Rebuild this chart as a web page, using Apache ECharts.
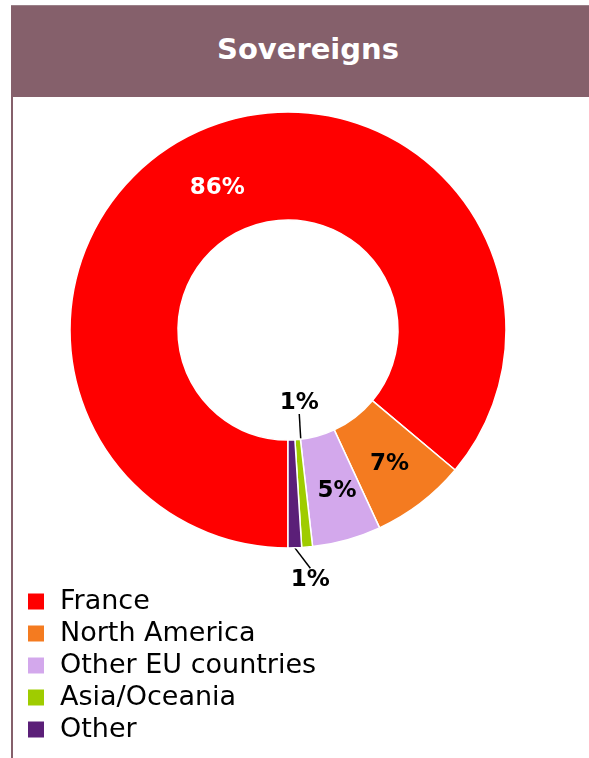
<!DOCTYPE html>
<html>
<head>
<meta charset="utf-8">
<script src="https://cdn.jsdelivr.net/npm/echarts@6/dist/echarts.min.js"></script>
<style>
  html, body { margin: 0; padding: 0; width: 589px; height: 758px; overflow: hidden; background: #fff; }
  #header { position: absolute; left: 11px; top: 5px; width: 594px; height: 92px; background: #85606b;
            border-top: 1px solid #9a8088; box-sizing: border-box;
            color: #fff; font-family: "DejaVu Sans", Verdana, sans-serif; font-weight: bold; font-size: 29px;
            text-align: center; line-height: 87px; }
  #border { position: absolute; left: 11px; top: 97px; width: 2px; height: 661px; background: #85606b; }
  #chart { position: absolute; left: 0; top: 0; width: 589px; height: 758px; }
</style>
</head>
<body>
<div id="chart"></div>
<div id="header">Sovereigns</div>
<div id="border"></div>
<script>
const titleText = 'Sovereigns';
const categories = ['France', 'North America', 'Other EU countries', 'Asia/Oceania', 'Other'];
const values = [86.1, 7.0, 5.1, 0.8, 1.0];
const colors = ['#ff0000', '#f47b20', '#d3a8ec', '#9fcc00', '#5b1f78'];
const labelColors = ['#ffffff', '#000000', '#000000', '#000000', '#000000'];
const insideLabel = [true, true, true, false, false];

document.getElementById('header').textContent = titleText;

const FONT = '"DejaVu Sans", Verdana, sans-serif';

const labelOffsets = [[0, 9], [0, 1], [4, 0], [0, 0], [0, 0]];

const data = categories.map((name, i) => ({
  name: name,
  value: values[i],
  itemStyle: { color: colors[i] },
  label: {
    position: insideLabel[i] ? 'inside' : 'outside',
    color: labelColors[i],
    offset: labelOffsets[i]
  },
  labelLine: { show: !insideLabel[i] }
}));

const chart = echarts.init(document.getElementById('chart'), null, { renderer: 'canvas' });
chart.setOption({
  animation: false,
  legend: {
    orient: 'vertical',
    left: 26,
    top: 588,
    padding: 0,
    itemWidth: 18,
    itemHeight: 18,
    itemGap: 5,
    icon: 'rect',
    data: categories,
    textStyle: { fontFamily: FONT, fontSize: 27, color: '#000', padding: [0, 0, 0, 10] }
  },
  series: [{
    type: 'pie',
    center: [288, 330],
    radius: [110, 218],
    startAngle: 270,
    clockwise: true,
    avoidLabelOverlap: false,
    itemStyle: { borderColor: '#ffffff', borderWidth: 1.5 },
    label: {
      show: true,
      fontFamily: FONT,
      fontWeight: 'bold',
      fontSize: 23,
      formatter: function (p) { return Math.round(p.percent) + '%'; }
    },
    labelLine: { lineStyle: { color: '#000', width: 1.5 }, length: 20, length2: 0, smooth: false },
    labelLayout: function (p) {
      if (p.dataIndex === 3) {
        return { x: p.rect.x + p.rect.width / 2 - 4.5, y: p.rect.y - 36, align: 'center', verticalAlign: 'middle' };
      }
      if (p.dataIndex === 4) {
        return { x: p.rect.x + p.rect.width / 2 + 15.5, y: p.rect.y + p.rect.height + 31, align: 'center', verticalAlign: 'middle' };
      }
      return {};
    },
    data: data
  }]
});
</script>
</body>
</html>
